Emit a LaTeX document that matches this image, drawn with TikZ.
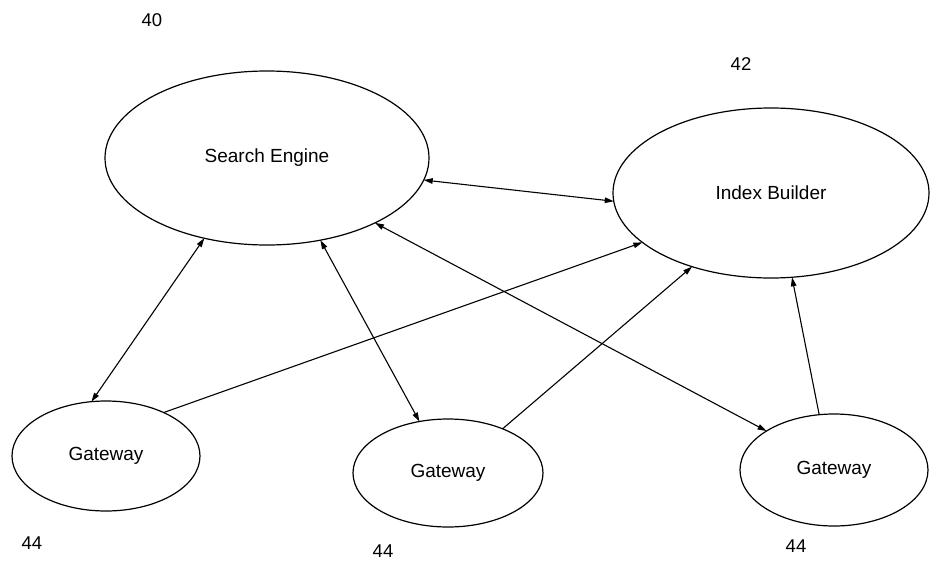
\documentclass[tikz,border=0pt]{standalone}
\usepackage{fontspec}
\setmainfont{Liberation Sans}
\usetikzlibrary{shapes.geometric,arrows.meta}
\begin{document}
\begin{tikzpicture}[x=1pt,y=-1pt,
  ell/.style={draw,ellipse,line width=1.2pt,inner sep=0pt,outer sep=0pt,font=\fontsize{19}{22}\selectfont},
  lab/.style={inner sep=0pt,font=\fontsize{18.5}{20}\selectfont},
  conn/.style={line width=1.1pt,-{Triangle[length=9pt,width=5.5pt]}},
  bidir/.style={line width=1.1pt,{Triangle[length=9pt,width=5.5pt]}-{Triangle[length=9pt,width=5.5pt]}}]
\useasboundingbox (0,0) rectangle (932,562);
\node[ell,minimum width=324pt,minimum height=174pt] (se) at (267,158) {Search Engine};
\node[ell,minimum width=316pt,minimum height=170pt] (ib) at (771,193) {Index Builder};
\node[ell,minimum width=188pt,minimum height=110pt] (gl) at (106,456) {Gateway};
\node[ell,minimum width=190pt,minimum height=108pt] (gm) at (448,473) {Gateway};
\node[ell,minimum width=188pt,minimum height=112pt] (gr) at (834,470) {Gateway};
\node[lab] (l40) at (152,20) {40};
\node[lab] (l42) at (741,64) {42};
\node[lab] (l44a) at (32,543) {44};
\node[lab] (l44b) at (383,551) {44};
\node[lab] (l44c) at (796,546) {44};
\draw[bidir] (se.-8) -- (ib.183);
\draw[bidir] (se.-128.6) -- (gl.105.7);
\draw[bidir] (se.-57.1) -- (gm.119.4);
\draw[bidir] (se.-31.4) -- (gr.150);
\draw[conn] (gl.37.7) -- (ib.-159.5);
\draw[conn] (gm.39.4) -- (ib.-137.8);
\draw[conn] (gr.105) -- (ib.-76.1);
\end{tikzpicture}
\end{document}
